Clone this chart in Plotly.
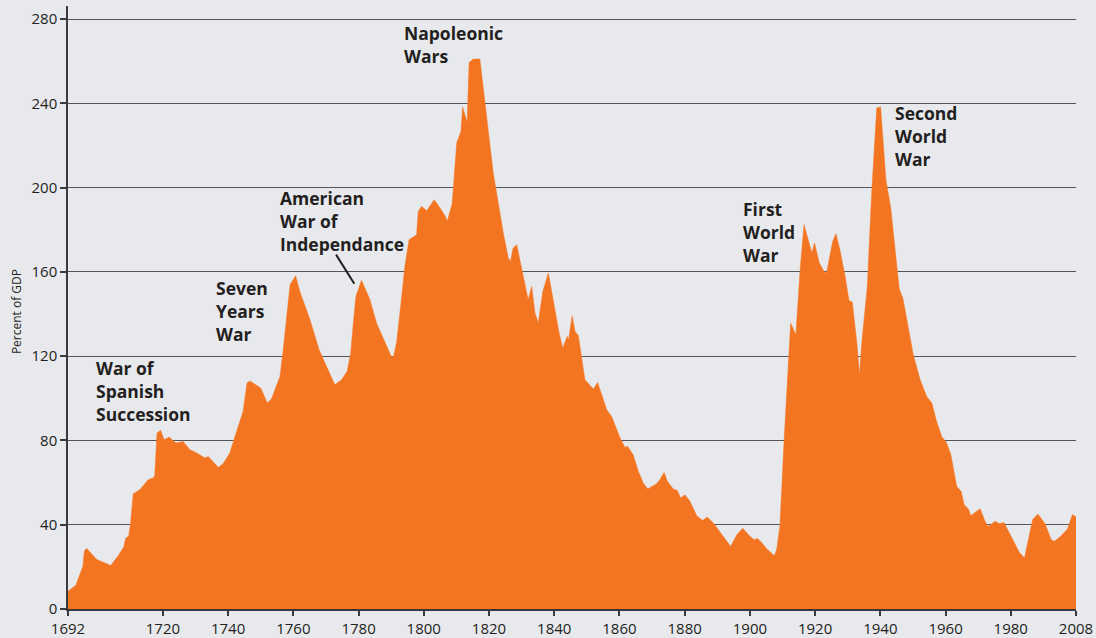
import plotly.graph_objects as go

# x positions on the chart's own (linear) year scale; 1692 label sits at 1690.9, 2008 label at 2000
year_pos = [
    1690.9, 1693.3, 1695.5, 1695.9, 1696.6, 1699.7, 1704.0, 1706.3, 1708.0, 1708.6,
    1709.5, 1710.1, 1710.9, 1712.9, 1715.5, 1717.0, 1717.5, 1718.2, 1719.3, 1720.4,
    1721.9, 1724.0, 1726.2, 1728.3, 1730.1, 1732.9, 1733.9, 1737.0, 1738.5, 1740.5,
    1742.1, 1744.6, 1745.8, 1746.7, 1750.0, 1752.0, 1753.3, 1755.9, 1756.9, 1759.0,
    1760.7, 1762.0, 1765.1, 1767.9, 1772.7, 1774.8, 1776.5, 1777.6, 1778.4, 1779.2,
    1780.9, 1783.5, 1785.5, 1787.6, 1790.1, 1790.8, 1791.7, 1792.9, 1794.2, 1795.5,
    1797.8, 1798.3, 1799.3, 1800.9, 1803.2, 1805.0, 1806.5, 1807.2, 1808.7, 1810.1,
    1811.4, 1811.9, 1813.3, 1813.9, 1815.2, 1817.2, 1818.5, 1821.3, 1824.4, 1825.9,
    1826.6, 1827.4, 1828.5, 1830.0, 1832.0, 1833.1, 1834.1, 1835.1, 1836.5, 1838.2,
    1839.7, 1841.5, 1842.6, 1844.0, 1844.4, 1845.5, 1846.4, 1847.4, 1849.4, 1852.0,
    1853.3, 1856.1, 1857.6, 1860.2, 1861.7, 1862.5, 1864.2, 1865.8, 1867.3, 1868.7,
    1871.4, 1872.4, 1873.7, 1874.7, 1876.5, 1877.7, 1878.8, 1880.1, 1881.6, 1883.7,
    1885.5, 1886.9, 1888.8, 1891.4, 1894.1, 1896.0, 1897.8, 1900.0, 1901.3, 1902.3,
    1903.6, 1905.2, 1907.5, 1908.2, 1909.2, 1910.5, 1912.5, 1914.1, 1915.4, 1916.6,
    1919.0, 1919.8, 1921.3, 1923.0, 1923.6, 1925.4, 1926.4, 1927.6, 1929.2, 1930.4,
    1931.4, 1932.8, 1933.6, 1934.3, 1936.0, 1937.4, 1938.9, 1940.1, 1941.7, 1943.2,
    1945.8, 1946.9, 1948.6, 1950.1, 1952.2, 1954.2, 1955.8, 1957.1, 1958.8, 1960.2,
    1961.6, 1963.4, 1964.8, 1965.7, 1967.0, 1967.7, 1970.6, 1972.1, 1973.1, 1975.2,
    1976.5, 1977.9, 1982.6, 1984.2, 1986.7, 1988.3, 1990.5, 1992.4, 1993.4, 1995.3,
    1997.4, 1998.9, 2000.0,
]

debt_pct = [
    8.4, 11.3, 20.4, 27.5, 28.8, 23.5, 20.7, 25.3, 29.4, 33.7,
    34.5, 40.8, 54.7, 56.6, 61.4, 62.2, 63.4, 83.5, 84.8, 80.3,
    81.6, 78.8, 79.5, 75.6, 74.3, 71.7, 72.4, 67.2, 69.0, 74.0,
    81.9, 93.8, 107.3, 108.2, 104.9, 97.8, 99.7, 110.4, 123.0, 153.9,
    158.2, 150.7, 137.3, 123.0, 106.4, 108.8, 112.8, 121.5, 135.7, 148.4,
    156.0, 146.8, 135.7, 128.6, 119.6, 120.2, 127.0, 143.6, 162.6, 175.3,
    177.6, 188.7, 191.1, 189.0, 194.3, 190.3, 186.7, 184.0, 192.3, 221.2,
    226.7, 238.3, 231.0, 259.4, 261.0, 261.0, 243.3, 206.9, 178.4, 166.6,
    165.0, 171.3, 172.9, 161.0, 146.8, 153.1, 140.5, 135.7, 150.7, 159.5,
    146.8, 131.0, 123.9, 129.4, 127.8, 139.2, 131.7, 129.7, 108.8, 104.4,
    107.5, 94.6, 91.4, 81.2, 76.7, 77.2, 73.2, 65.3, 59.8, 57.0,
    59.5, 61.4, 64.8, 60.6, 57.0, 56.3, 52.7, 54.2, 51.1, 44.3,
    42.0, 43.7, 40.8, 35.3, 29.7, 35.3, 38.3, 34.5, 32.9, 33.5,
    31.6, 28.5, 25.3, 28.1, 39.2, 80.3, 135.7, 130.2, 161.0, 182.4,
    169.0, 173.7, 164.2, 159.5, 160.2, 174.5, 178.1, 170.5, 157.9, 146.3,
    145.7, 126.2, 111.2, 126.2, 153.1, 199.0, 237.8, 238.3, 203.7, 190.3,
    151.9, 147.6, 132.6, 120.7, 108.8, 100.9, 97.8, 89.8, 81.9, 79.2,
    73.5, 58.3, 55.8, 49.5, 47.5, 44.3, 47.6, 41.6, 39.2, 41.6,
    40.5, 41.1, 26.9, 24.2, 42.4, 45.1, 40.5, 32.9, 32.1, 34.5,
    38.0, 44.8, 43.7,
]

x_tick_pos = [1690.9, 1720, 1740, 1760, 1780, 1800, 1820, 1840, 1860, 1880, 1900, 1920, 1940, 1960, 1980, 2000]
x_tick_text = ["1692", "1720", "1740", "1760", "1780", "1800", "1820", "1840", "1860", "1880", "1900", "1920", "1940", "1960", "1980", "2008"]
y_ticks = [0, 40, 80, 120, 160, 200, 240, 280]

# war labels: (text, x position, y top)
war_labels = [
    ("War of<br>Spanish<br>Succession", 1699.0, 121.0),
    ("Seven<br>Years<br>War", 1735.8, 159.0),
    ("American<br>War of<br>Independance", 1755.3, 201.6),
    ("Napoleonic<br>Wars", 1793.4, 280.2),
    ("First<br>World<br>War", 1897.3, 196.3),
    ("Second<br>World<br>War", 1944.0, 242.2),
]
pointer = dict(x0=1773.1, y0=168.2, x1=1778.7, y1=154.4)

BG = "#E8E9ED"
ORANGE = "#F47521"
TXT = "#231F20"

fig = go.Figure()
fig.add_trace(go.Scatter(
    x=year_pos, y=debt_pct, mode="lines", fill="tozeroy",
    line=dict(color=ORANGE, width=0.5), fillcolor=ORANGE,
    hoverinfo="x+y", showlegend=False,
))

for text, xx, yy in war_labels:
    fig.add_annotation(
        x=xx, y=yy, xref="x", yref="y", text=f"<b>{text}</b>", showarrow=False,
        xanchor="left", yanchor="top", align="left",
        font=dict(family="Open Sans", size=17.5, color=TXT),
    )

fig.add_shape(type="line", xref="x", yref="y", **pointer,
              line=dict(color=TXT, width=2))

fig.add_annotation(
    x=-0.0516, y=0.494, xref="paper", yref="paper", text="Percent of GDP",
    textangle=-90, showarrow=False, xanchor="center", yanchor="middle",
    font=dict(family="Open Sans", size=12, color=TXT),
)

fig.update_layout(
    width=1096, height=638,
    margin=dict(l=68, r=20, t=6, b=29),
    paper_bgcolor=BG, plot_bgcolor=BG,
    font=dict(family="Open Sans", size=15, color=TXT),
    xaxis=dict(
        range=[1690.9, 2000], tickmode="array", tickvals=x_tick_pos, ticktext=x_tick_text,
        showgrid=False, zeroline=False, showline=True, linecolor="#3a3a3a", linewidth=1.5,
        ticks="outside", ticklen=5, tickcolor="#3a3a3a", tickwidth=1.5,
        tickfont=dict(size=15, color=TXT), automargin=False,
    ),
    yaxis=dict(
        range=[0, 286.2], tickmode="array", tickvals=y_ticks,
        showgrid=True, gridcolor="#555555", gridwidth=1, zeroline=False,
        showline=True, linecolor="#3a3a3a", linewidth=1.5,
        ticks="outside", ticklen=6, tickcolor="#3a3a3a", tickwidth=1.5,
        tickfont=dict(size=15, color=TXT), automargin=False,
    ),
)

page_fix = (
    "document.documentElement.style.margin='0';"
    "document.body.style.margin='0';"
    "document.body.style.padding='0';"
    "document.body.style.overflow='hidden';"
    "document.body.style.background='" + BG + "';"
)
fig.write_html("out.html", post_script=page_fix, config={"displayModeBar": False})
